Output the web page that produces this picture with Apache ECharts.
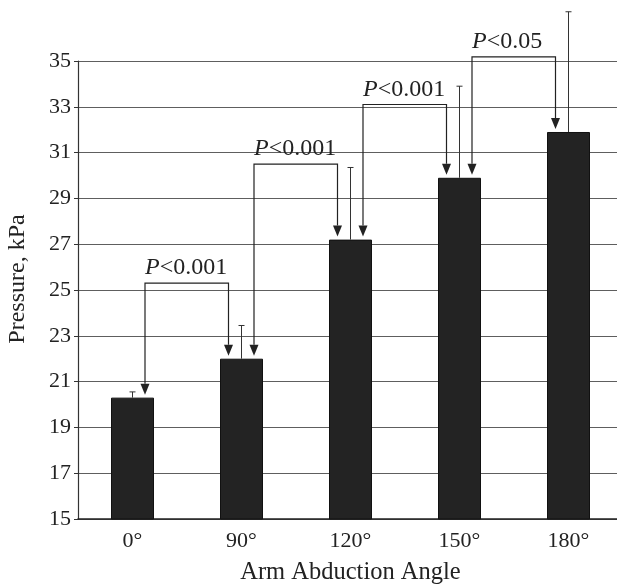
<!DOCTYPE html>
<html><head><meta charset="utf-8">
<script src="https://cdn.jsdelivr.net/npm/echarts@6/dist/echarts.min.js"></script>
<style>html,body{margin:0;padding:0;background:#fff}#c{width:617px;height:587px}</style>
</head><body><div id="c"></div>
<script>
const categories = ['0°', '90°', '120°', '150°', '180°'];
const meanPressure = [20.3, 22.0, 27.2, 29.9, 31.9];
const upperError = [20.55, 23.45, 30.35, 33.9, 37.15];
const compareFrom = [0, 1, 2, 3];
const compareTo = [1, 2, 3, 4];
const bracketLevel = [25.3, 30.5, 33.1, 35.18];
const pLabels = ['P<0.001', 'P<0.001', 'P<0.001', 'P<0.05'];
const yMin = 15, yMax = 35, yStep = 2;

const FONT = 'Liberation Serif';
const chart = echarts.init(document.getElementById('c'), null, {renderer: 'canvas'});

const errData = categories.map((c, i) => [i, meanPressure[i], upperError[i]]);
const cmpData = compareFrom.map((f, i) => [f, compareTo[i], bracketLevel[i], meanPressure[f], meanPressure[compareTo[i]]]);

chart.setOption({
  animation: false,
  backgroundColor: '#fff',
  grid: {left: 78, right: -6, top: 61, bottom: 68, outerBoundsMode: 'none', containLabel: false},
  xAxis: {
    type: 'category', data: categories,
    name: 'Arm Abduction Angle', nameLocation: 'middle', nameGap: 41,
    nameTextStyle: {fontFamily: FONT, fontSize: 24.5, color: '#222'},
    axisLine: {lineStyle: {color: '#222', width: 1.5}},
    axisTick: {show: false},
    axisLabel: {fontFamily: FONT, fontSize: 22, color: '#222', margin: 11},
    splitLine: {show: false}
  },
  yAxis: {
    type: 'value', min: yMin, max: yMax, interval: yStep,
    name: 'Pressure, kPa', nameLocation: 'middle', nameGap: 48,
    nameTextStyle: {fontFamily: FONT, fontSize: 24, color: '#222', padding: [0, 0, 0, 22]},
    axisLine: {show: true, lineStyle: {color: '#333', width: 1.2}},
    axisTick: {show: true, length: 4, lineStyle: {color: '#333'}},
    axisLabel: {fontFamily: FONT, fontSize: 22, color: '#222', margin: 7},
    splitLine: {show: true, lineStyle: {color: '#5e5e5e', width: 1.2}}
  },
  series: [
    {
      type: 'bar', data: meanPressure, barWidth: 43,
      itemStyle: {color: '#232323', borderColor: '#111', borderWidth: 1},
      z: 2
    },
    {
      type: 'custom', data: errData, clip: false, z: 3,
      renderItem: function (params, api) {
        const b = api.coord([api.value(0), api.value(1)]);
        const t = api.coord([api.value(0), api.value(2)]);
        return {type: 'group', children: [
          {type: 'line', shape: {x1: b[0], y1: b[1], x2: t[0], y2: t[1]}, style: {stroke: '#333', lineWidth: 1}},
          {type: 'line', shape: {x1: t[0] - 3, y1: t[1], x2: t[0] + 3, y2: t[1]}, style: {stroke: '#333', lineWidth: 1}}
        ]};
      }
    },
    {
      type: 'custom', data: cmpData, clip: false, z: 4,
      renderItem: function (params, api) {
        const top = api.coord([api.value(0), api.value(2)])[1];
        const xl = api.coord([api.value(0), api.value(3)])[0] + 12.5;
        const xr = api.coord([api.value(1), api.value(4)])[0] - 13;
        const yl = api.coord([api.value(0), api.value(3)])[1] - 3;
        const yr = api.coord([api.value(1), api.value(4)])[1] - 3;
        const ah = 11, aw = 4.5;
        const st = {stroke: '#222', lineWidth: 1.2, fill: null};
        const label = pLabels[params.dataIndex].replace(/^P/, '{i|P}');
        return {type: 'group', children: [
          {type: 'polyline', shape: {points: [[xl, yl - ah], [xl, top], [xr, top], [xr, yr - ah]]}, style: st},
          {type: 'polygon', shape: {points: [[xl - aw, yl - ah], [xl + aw, yl - ah], [xl, yl]]}, style: {fill: '#222'}},
          {type: 'polygon', shape: {points: [[xr - aw, yr - ah], [xr + aw, yr - ah], [xr, yr]]}, style: {fill: '#222'}},
          {type: 'text', x: xl, y: top - 15, style: {
            text: label, fontFamily: FONT, fontSize: 24, fill: '#222',
            align: 'left', verticalAlign: 'middle',
            rich: {i: {fontStyle: 'italic', fontFamily: FONT, fontSize: 24, fill: '#222'}}
          }}
        ]};
      }
    }
  ]
});
</script></body></html>
